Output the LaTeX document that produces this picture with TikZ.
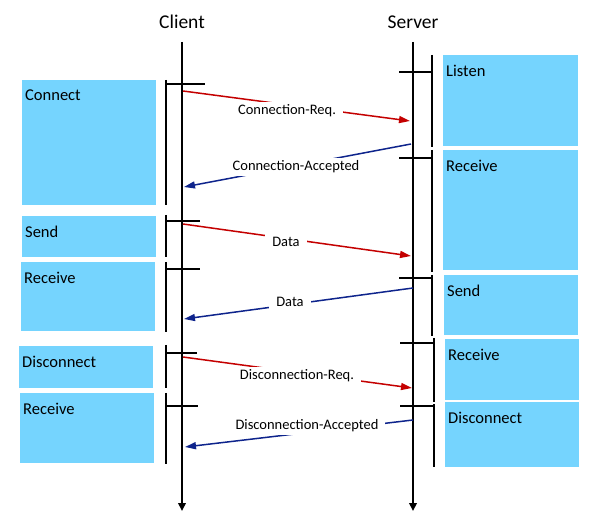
\documentclass[tikz,border=0pt]{standalone}
\usepackage{fontspec}
\setmainfont{Carlito}
\usetikzlibrary{arrows.meta}
\definecolor{boxblue}{RGB}{117,212,254}
\definecolor{reqred}{RGB}{196,0,0}
\definecolor{ackblue}{RGB}{14,36,140}
\begin{document}
\begin{tikzpicture}
        [x=1pt, y=-1pt,
        lifeline/.style={line width=2.6pt, -{Triangle[length=8pt,width=7.5pt]}},
        bracket/.style={line width=2.3pt},
        stepbox/.style={fill=boxblue, anchor=north west, inner sep=0pt},
        boxtext/.style={anchor=north west, inner sep=0pt, xshift=3pt, yshift=-9.5pt,
          font=\fontsize{16.5}{18}\selectfont},
        title/.style={anchor=base, font=\fontsize{19.5}{22}\selectfont},
        reqmsg/.style={draw=reqred, line width=1.5pt, -{Triangle[length=11pt,width=7pt]}},
        ackmsg/.style={draw=ackblue, line width=1.5pt, -{Triangle[length=11pt,width=7pt]}},
        msgtext/.style={fill=white, inner xsep=7pt, inner ysep=3pt,
          font=\fontsize{14.5}{16}\selectfont},
        ]
        \useasboundingbox (0,0) rectangle (600,521);

        % lifelines
        \node[title] (client) at (182,29) {Client};
        \node[title] (server) at (413,29) {Server};
        \coordinate (ctop) at (182,42);
        \coordinate (cbot) at (182,511);
        \coordinate (stop) at (413,42);
        \coordinate (sbot) at (413,511);
        \draw[lifeline] (ctop) -- (cbot);
        \draw[lifeline] (stop) -- (sbot);

        % client steps
        \node[stepbox, minimum width=134pt, minimum height=125pt,
          label={[boxtext]north west:Connect}] (connect) at (22,80) {};
        \node[stepbox, minimum width=134pt, minimum height=41pt,
          label={[boxtext]north west:Send}] (csend) at (22,216) {};
        \node[stepbox, minimum width=134pt, minimum height=69pt,
          label={[boxtext]north west:Receive}] (crecv) at (21,262) {};
        \node[stepbox, minimum width=134pt, minimum height=42pt,
          label={[boxtext]north west:Disconnect}] (cdisc) at (19,346) {};
        \node[stepbox, minimum width=134pt, minimum height=70pt,
          label={[boxtext]north west:Receive}] (cwait) at (20,393) {};

        % server steps
        \node[stepbox, minimum width=135pt, minimum height=91pt,
          label={[boxtext]north west:Listen}] (listen) at (443,55) {};
        \node[stepbox, minimum width=135pt, minimum height=120pt,
          label={[boxtext]north west:Receive}] (srecv) at (443,150) {};
        \node[stepbox, minimum width=134pt, minimum height=60pt,
          label={[boxtext]north west:Send}] (ssend) at (444,275) {};
        \node[stepbox, minimum width=134pt, minimum height=61pt,
          label={[boxtext]north west:Receive}] (swait) at (445,339) {};
        \node[stepbox, minimum width=134pt, minimum height=65pt,
          label={[boxtext]north west:Disconnect}] (sdisc) at (445,402) {};

        % brackets
        \draw[bracket] (166,80) -- (166,205) (166,84) -- (205,84);
        \draw[bracket] (166,215) -- (166,257) (166,221) -- (200,221);
        \draw[bracket] (166,262) -- (166,332) (166,269) -- (200,269);
        \draw[bracket] (166,345) -- (166,388) (166,353) -- (197,353);
        \draw[bracket] (166,393) -- (166,464) (166,406) -- (198,406);
        \draw[bracket] (432,55) -- (432,147) (399,72) -- (432,72);
        \draw[bracket] (432,150) -- (432,272) (399,158) -- (432,158);
        \draw[bracket] (432,275) -- (432,336) (399,278) -- (432,278);
        \draw[bracket] (434,338) -- (434,402) (400,343) -- (434,343);
        \draw[bracket] (434,404) -- (434,467) (400,406) -- (434,406);

        % messages
        \coordinate (c1) at (183,91);   \coordinate (s1) at (410,121);
        \coordinate (s2) at (411,144);  \coordinate (c2) at (184,187);
        \coordinate (c3) at (183,224);  \coordinate (s3) at (411,256);
        \coordinate (s4) at (413,288);  \coordinate (c4) at (184,319);
        \coordinate (c5) at (183,357);  \coordinate (s5) at (412,388);
        \coordinate (s6) at (413,420);  \coordinate (c6) at (185,447);
        \draw[reqmsg] (c1) -- (s1) node[msgtext] at (287,111) {Connection-Req.};
        \draw[ackmsg] (s2) -- (c2) node[msgtext] at (296,167) {Connection-Accepted};
        \draw[reqmsg] (c3) -- (s3) node[msgtext] at (286,242) {Data};
        \draw[ackmsg] (s4) -- (c4) node[msgtext] at (290,302) {Data};
        \draw[reqmsg] (c5) -- (s5) node[msgtext] at (297,376) {Disconnection-Req.};
        \draw[ackmsg] (s6) -- (c6) node[msgtext] at (307,426) {Disconnection-Accepted};
\end{tikzpicture}
\end{document}
